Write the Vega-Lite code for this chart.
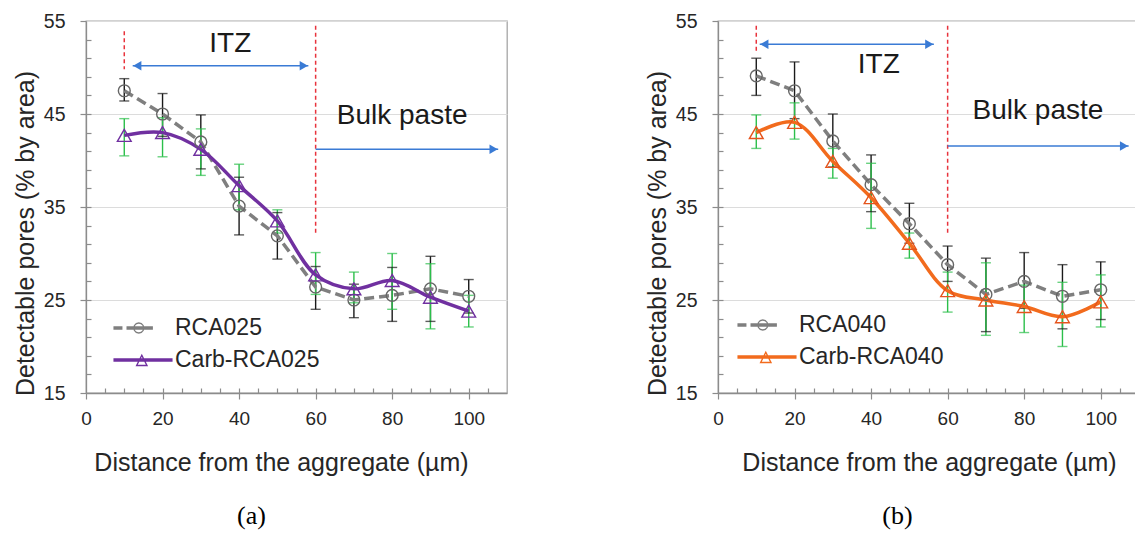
{
  "$schema": "https://vega.github.io/schema/vega-lite/v6.json",
  "padding": {"left": 12, "top": 10, "right": 0, "bottom": 0},
  "spacing": 136,
  "config": {
    "font": "Liberation Sans",
    "view": {"stroke": "#a6a6a6", "strokeWidth": 1.3},
    "axis": {
      "domainColor": "#8c8c8c", "domainWidth": 1.3, "tickColor": "#8c8c8c", "tickWidth": 1.2,
      "labelFont": "Liberation Sans", "labelColor": "#262626",
      "titleFont": "Liberation Sans", "titleColor": "#262626", "titleFontSize": 25, "titleFontWeight": "normal",
      "gridColor": "#dcdcdc", "labelOverlap": false, "labelFlush": false, "labelBound": false
    },
    "title": {"font": "Liberation Serif", "fontSize": 26, "fontWeight": "normal", "color": "#000000"}
  },
  "resolve": {"scale": {"color": "independent", "x": "independent", "y": "independent"}, "legend": {"color": "independent"}},
  "hconcat": [
    {
      "width": 421, "height": 372,
      "title": {"text": "(a)", "orient": "bottom", "anchor": "middle", "frame": "group", "dx": -45, "offset": 28},
      "data": {"values": [
        {"x": 10, "series": "RCA025", "y": 47.5, "lo": 46.4, "hi": 48.8},
        {"x": 20, "series": "RCA025", "y": 45.0, "lo": 42.6, "hi": 47.2},
        {"x": 30, "series": "RCA025", "y": 42.0, "lo": 39.1, "hi": 44.9},
        {"x": 40, "series": "RCA025", "y": 35.1, "lo": 32.0, "hi": 38.2},
        {"x": 50, "series": "RCA025", "y": 31.9, "lo": 29.4, "hi": 34.4},
        {"x": 60, "series": "RCA025", "y": 26.4, "lo": 24.0, "hi": 28.6},
        {"x": 70, "series": "RCA025", "y": 25.0, "lo": 23.1, "hi": 26.7},
        {"x": 80, "series": "RCA025", "y": 25.5, "lo": 22.7, "hi": 28.5},
        {"x": 90, "series": "RCA025", "y": 26.2, "lo": 22.7, "hi": 29.7},
        {"x": 100, "series": "RCA025", "y": 25.4, "lo": 23.6, "hi": 27.2},
        {"x": 10, "series": "Carb-RCA025", "y": 42.7, "lo": 40.5, "hi": 44.5},
        {"x": 20, "series": "Carb-RCA025", "y": 43.0, "lo": 40.4, "hi": 44.6},
        {"x": 30, "series": "Carb-RCA025", "y": 41.2, "lo": 38.4, "hi": 43.4},
        {"x": 40, "series": "Carb-RCA025", "y": 37.3, "lo": 34.7, "hi": 39.6},
        {"x": 50, "series": "Carb-RCA025", "y": 33.5, "lo": 32.2, "hi": 34.7},
        {"x": 60, "series": "Carb-RCA025", "y": 27.7, "lo": 25.6, "hi": 30.1},
        {"x": 70, "series": "Carb-RCA025", "y": 26.2, "lo": 24.7, "hi": 28.0},
        {"x": 80, "series": "Carb-RCA025", "y": 27.1, "lo": 24.0, "hi": 30.0},
        {"x": 90, "series": "Carb-RCA025", "y": 25.3, "lo": 21.9, "hi": 28.9},
        {"x": 100, "series": "Carb-RCA025", "y": 23.8, "lo": 22.1, "hi": 25.5}
      ]},
      "resolve": {"axis": {"x": "independent", "y": "independent"}},
      "layer": [
        {
          "layer": [
            {
              "mark": {"type": "rule", "strokeWidth": 1.4},
              "encoding": {
                "x": {"field": "x", "type": "quantitative", "scale": {"domain": [0, 110], "nice": false, "zero": false}, "title": "Distance from the aggregate (µm)",
                  "axis": {"values": [0, 20, 40, 60, 80, 100], "labelFontSize": 19, "tickSize": 6, "labelPadding": 10, "titlePadding": 22, "titleX": 195, "grid": false}},
                "y": {"field": "lo", "type": "quantitative", "scale": {"domain": [15, 55], "nice": false, "zero": false}, "title": "Detectable pores (% by area)",
                  "axis": {"values": [15, 25, 35, 45, 55], "labelFontSize": 19.5, "tickSize": 6, "labelPadding": 15, "grid": true, "titlePadding": 5, "titleY": 212}},
                "y2": {"field": "hi"},
                "stroke": {"condition": {"test": "indexof(datum.series, 'Carb') === 0", "value": "#2bbf4a"}, "value": "#1a1a1a"}
              }
            },
            {
              "mark": {"type": "tick", "orient": "horizontal", "size": 10, "thickness": 1.4},
              "encoding": {
                "x": {"field": "x", "type": "quantitative"},
                "y": {"field": "lo", "type": "quantitative"},
                "color": {"condition": {"test": "indexof(datum.series, 'Carb') === 0", "value": "#2bbf4a"}, "value": "#1a1a1a"}
              }
            },
            {
              "mark": {"type": "tick", "orient": "horizontal", "size": 10, "thickness": 1.4},
              "encoding": {
                "x": {"field": "x", "type": "quantitative"},
                "y": {"field": "hi", "type": "quantitative"},
                "color": {"condition": {"test": "indexof(datum.series, 'Carb') === 0", "value": "#2bbf4a"}, "value": "#1a1a1a"}
              }
            },
            {
              "transform": [{"filter": "datum.series === 'RCA025'"}],
              "mark": {"type": "line", "strokeWidth": 3.5, "strokeDash": [10, 5]},
              "encoding": {
                "x": {"field": "x", "type": "quantitative"},
                "y": {"field": "y", "type": "quantitative"},
                "color": {"field": "series", "type": "nominal", "scale": {"domain": ["RCA025", "Carb-RCA025"], "range": ["#7f7f7f", "#7030a0"]},
                  "legend": {"orient": "none", "legendX": 42, "legendY": 292, "title": null, "labelFontSize": 23, "labelColor": "#262626", "symbolSize": 900, "labelOffset": 17, "padding": 0, "rowPadding": 5,
                    "encode": {"symbols": {"update": {
                      "shape": {"signal": "indexof(datum.value, 'Carb') === 0 ? 'M-1.97,-0.117H1.97V0.117H-1.97Z M-0.08,-0.42L0.34,0.41L-0.5,0.41Z M-0.08,-0.212L-0.3495,0.317L0.1895,0.317Z' : 'M-1.97,-0.12H-1.37V0.12H-1.97Z M-1.1,-0.12H0.66V0.12H-1.1Z M0.1,0L0.0491,0.19L-0.09,0.3291L-0.28,0.38L-0.47,0.3291L-0.6091,0.19L-0.66,0L-0.6091,-0.19L-0.47,-0.3291L-0.28,-0.38L-0.09,-0.3291L0.0491,-0.19Z M0.01,0L-0.0289,-0.145L-0.135,-0.2511L-0.28,-0.29L-0.425,-0.2511L-0.5311,-0.145L-0.57,0L-0.5311,0.145L-0.425,0.2511L-0.28,0.29L-0.135,0.2511L-0.0289,0.145Z'"},
                      "fill": {"signal": "datum.value === 'Carb-RCA025' ? '#7030a0' : datum.value === 'Carb-RCA040' ? '#f26b1d' : '#7f7f7f'"},
                      "stroke": {"value": "transparent"}, "strokeWidth": {"value": 0}, "opacity": {"value": 1}, "fillOpacity": {"value": 1}
                    }}}}}
              }
            },
            {
              "transform": [{"filter": "datum.series === 'Carb-RCA025'"}],
              "mark": {"type": "line", "strokeWidth": 3.5, "interpolate": "catmull-rom"},
              "encoding": {
                "x": {"field": "x", "type": "quantitative"},
                "y": {"field": "y", "type": "quantitative"},
                "color": {"field": "series", "type": "nominal", "scale": {"domain": ["RCA025", "Carb-RCA025"], "range": ["#7f7f7f", "#7030a0"]}}
              }
            },
            {
              "mark": {"type": "point", "filled": false, "strokeWidth": 1.4, "opacity": 1},
              "encoding": {
                "x": {"field": "x", "type": "quantitative"},
                "y": {"field": "y", "type": "quantitative"},
                "shape": {"condition": {"test": "indexof(datum.series, 'Carb') === 0", "value": "triangle-up"}, "value": "circle"},
                "size": {"condition": {"test": "indexof(datum.series, 'Carb') === 0", "value": 190}, "value": 140},
                "stroke": {"condition": {"test": "indexof(datum.series, 'Carb') === 0", "value": "#7030a0"}, "value": "#666666"}
              }
            },
            {
              "data": {"values": [{"x": 10, "y1": 53.9, "y2": 49.8}, {"x": 60, "y1": 54.5, "y2": 31.9}]},
              "mark": {"type": "rule", "color": "#e8333c", "strokeWidth": 1.5, "strokeDash": [4, 3]},
              "encoding": {"x": {"field": "x", "type": "quantitative"}, "y": {"field": "y1", "type": "quantitative"}, "y2": {"field": "y2"}}
            },
            {
              "data": {"values": [{"x1": 12.2, "x2": 58.1, "y": 50.2}, {"x1": 60, "x2": 107.7, "y": 41.2}]},
              "mark": {"type": "rule", "color": "#3a7bd5", "strokeWidth": 1.5},
              "encoding": {"x": {"field": "x1", "type": "quantitative"}, "x2": {"field": "x2"}, "y": {"field": "y", "type": "quantitative"}}
            },
            {
              "data": {"values": [{"x": 13.4, "y": 50.2, "dir": "left"}, {"x": 56.9, "y": 50.2, "dir": "right"}, {"x": 106.5, "y": 41.2, "dir": "right"}]},
              "mark": {"type": "point", "filled": true, "size": 90, "color": "#3a7bd5", "opacity": 1},
              "encoding": {"x": {"field": "x", "type": "quantitative"}, "y": {"field": "y", "type": "quantitative"},
                "shape": {"condition": {"test": "datum.dir === 'left'", "value": "triangle-left"}, "value": "triangle-right"}}
            },
            {
              "data": {"values": [{"x": 37.7, "y": 52.5, "t": "ITZ"}, {"x": 82.6, "y": 44.8, "t": "Bulk paste"}]},
              "mark": {"type": "text", "fontSize": 28, "color": "#1a1a1a", "align": "center", "baseline": "middle"},
              "encoding": {"x": {"field": "x", "type": "quantitative"}, "y": {"field": "y", "type": "quantitative"}, "text": {"field": "t"}}
            }
          ]
        },
        {
          "mark": {"type": "point", "opacity": 0},
          "encoding": {
            "x": {"field": "x", "type": "quantitative", "scale": {"domain": [0, 110], "nice": false, "zero": false},
              "axis": {"orient": "bottom", "values": [5,10,15,20,25,30,35,40,45,50,55,60,65,70,75,80,85,90,95,100,105], "labels": false, "tickSize": -5, "domain": false, "grid": false, "title": null}},
            "y": {"field": "y", "type": "quantitative", "scale": {"domain": [15, 55], "nice": false, "zero": false},
              "axis": {"orient": "left", "values": [17,19,21,23,25,27,29,31,33,35,37,39,41,43,45,47,49,51,53], "labels": false, "tickSize": -5, "domain": false, "grid": false, "title": null}}
          }
        }
      ]
    },
    {
      "width": 421, "height": 372,
      "title": {"text": "(b)", "orient": "bottom", "anchor": "middle", "frame": "group", "dx": -31, "offset": 28},
      "data": {"values": [
        {"x": 10, "series": "RCA040", "y": 49.1, "lo": 47.0, "hi": 51.0},
        {"x": 20, "series": "RCA040", "y": 47.5, "lo": 44.5, "hi": 50.6},
        {"x": 30, "series": "RCA040", "y": 42.1, "lo": 39.3, "hi": 45.0},
        {"x": 40, "series": "RCA040", "y": 37.4, "lo": 34.5, "hi": 40.6},
        {"x": 50, "series": "RCA040", "y": 33.2, "lo": 31.1, "hi": 35.4},
        {"x": 60, "series": "RCA040", "y": 28.8, "lo": 27.0, "hi": 30.8},
        {"x": 70, "series": "RCA040", "y": 25.6, "lo": 21.6, "hi": 29.5},
        {"x": 80, "series": "RCA040", "y": 27.0, "lo": 24.1, "hi": 30.1},
        {"x": 90, "series": "RCA040", "y": 25.4, "lo": 21.9, "hi": 28.8},
        {"x": 100, "series": "RCA040", "y": 26.1, "lo": 22.9, "hi": 29.1},
        {"x": 10, "series": "Carb-RCA040", "y": 43.0, "lo": 41.3, "hi": 44.9},
        {"x": 20, "series": "Carb-RCA040", "y": 44.1, "lo": 42.3, "hi": 46.2},
        {"x": 30, "series": "Carb-RCA040", "y": 39.9, "lo": 38.1, "hi": 41.3},
        {"x": 40, "series": "Carb-RCA040", "y": 36.0, "lo": 32.7, "hi": 39.7},
        {"x": 50, "series": "Carb-RCA040", "y": 31.1, "lo": 29.5, "hi": 32.2},
        {"x": 60, "series": "Carb-RCA040", "y": 26.0, "lo": 23.7, "hi": 28.0},
        {"x": 70, "series": "Carb-RCA040", "y": 25.0, "lo": 21.2, "hi": 29.0},
        {"x": 80, "series": "Carb-RCA040", "y": 24.3, "lo": 21.5, "hi": 26.6},
        {"x": 90, "series": "Carb-RCA040", "y": 23.2, "lo": 20.0, "hi": 26.9},
        {"x": 100, "series": "Carb-RCA040", "y": 24.8, "lo": 22.1, "hi": 27.7}
      ]},
      "resolve": {"axis": {"x": "independent", "y": "independent"}},
      "layer": [
        {
          "layer": [
            {
              "mark": {"type": "rule", "strokeWidth": 1.4},
              "encoding": {
                "x": {"field": "x", "type": "quantitative", "scale": {"domain": [0, 110], "nice": false, "zero": false}, "title": "Distance from the aggregate (µm)",
                  "axis": {"values": [0, 20, 40, 60, 80, 100], "labelFontSize": 19, "tickSize": 6, "labelPadding": 10, "titlePadding": 22, "titleX": 211, "grid": false}},
                "y": {"field": "lo", "type": "quantitative", "scale": {"domain": [15, 55], "nice": false, "zero": false}, "title": "Detectable pores (% by area)",
                  "axis": {"values": [15, 25, 35, 45, 55], "labelFontSize": 19.5, "tickSize": 6, "labelPadding": 15, "grid": true, "titlePadding": 5, "titleY": 212}},
                "y2": {"field": "hi"},
                "stroke": {"condition": {"test": "indexof(datum.series, 'Carb') === 0", "value": "#2bbf4a"}, "value": "#1a1a1a"}
              }
            },
            {
              "mark": {"type": "tick", "orient": "horizontal", "size": 10, "thickness": 1.4},
              "encoding": {
                "x": {"field": "x", "type": "quantitative"},
                "y": {"field": "lo", "type": "quantitative"},
                "color": {"condition": {"test": "indexof(datum.series, 'Carb') === 0", "value": "#2bbf4a"}, "value": "#1a1a1a"}
              }
            },
            {
              "mark": {"type": "tick", "orient": "horizontal", "size": 10, "thickness": 1.4},
              "encoding": {
                "x": {"field": "x", "type": "quantitative"},
                "y": {"field": "hi", "type": "quantitative"},
                "color": {"condition": {"test": "indexof(datum.series, 'Carb') === 0", "value": "#2bbf4a"}, "value": "#1a1a1a"}
              }
            },
            {
              "transform": [{"filter": "datum.series === 'RCA040'"}],
              "mark": {"type": "line", "strokeWidth": 3.5, "strokeDash": [10, 5]},
              "encoding": {
                "x": {"field": "x", "type": "quantitative"},
                "y": {"field": "y", "type": "quantitative"},
                "color": {"field": "series", "type": "nominal", "scale": {"domain": ["RCA040", "Carb-RCA040"], "range": ["#7f7f7f", "#f26b1d"]},
                  "legend": {"orient": "none", "legendX": 34, "legendY": 289, "title": null, "labelFontSize": 23, "labelColor": "#262626", "symbolSize": 900, "labelOffset": 17, "padding": 0, "rowPadding": 5,
                    "encode": {"symbols": {"update": {
                      "shape": {"signal": "indexof(datum.value, 'Carb') === 0 ? 'M-1.97,-0.117H1.97V0.117H-1.97Z M-0.08,-0.42L0.34,0.41L-0.5,0.41Z M-0.08,-0.212L-0.3495,0.317L0.1895,0.317Z' : 'M-1.97,-0.12H-1.37V0.12H-1.97Z M-1.1,-0.12H0.66V0.12H-1.1Z M0.1,0L0.0491,0.19L-0.09,0.3291L-0.28,0.38L-0.47,0.3291L-0.6091,0.19L-0.66,0L-0.6091,-0.19L-0.47,-0.3291L-0.28,-0.38L-0.09,-0.3291L0.0491,-0.19Z M0.01,0L-0.0289,-0.145L-0.135,-0.2511L-0.28,-0.29L-0.425,-0.2511L-0.5311,-0.145L-0.57,0L-0.5311,0.145L-0.425,0.2511L-0.28,0.29L-0.135,0.2511L-0.0289,0.145Z'"},
                      "fill": {"signal": "datum.value === 'Carb-RCA025' ? '#7030a0' : datum.value === 'Carb-RCA040' ? '#f26b1d' : '#7f7f7f'"},
                      "stroke": {"value": "transparent"}, "strokeWidth": {"value": 0}, "opacity": {"value": 1}, "fillOpacity": {"value": 1}
                    }}}}}
              }
            },
            {
              "transform": [{"filter": "datum.series === 'Carb-RCA040'"}],
              "mark": {"type": "line", "strokeWidth": 3.5, "interpolate": "catmull-rom"},
              "encoding": {
                "x": {"field": "x", "type": "quantitative"},
                "y": {"field": "y", "type": "quantitative"},
                "color": {"field": "series", "type": "nominal", "scale": {"domain": ["RCA040", "Carb-RCA040"], "range": ["#7f7f7f", "#f26b1d"]}}
              }
            },
            {
              "mark": {"type": "point", "filled": false, "strokeWidth": 1.4, "opacity": 1},
              "encoding": {
                "x": {"field": "x", "type": "quantitative"},
                "y": {"field": "y", "type": "quantitative"},
                "shape": {"condition": {"test": "indexof(datum.series, 'Carb') === 0", "value": "triangle-up"}, "value": "circle"},
                "size": {"condition": {"test": "indexof(datum.series, 'Carb') === 0", "value": 190}, "value": 140},
                "stroke": {"condition": {"test": "indexof(datum.series, 'Carb') === 0", "value": "#e5541c"}, "value": "#666666"}
              }
            },
            {
              "data": {"values": [{"x": 10, "y1": 54.5, "y2": 51.6}, {"x": 60, "y1": 54.5, "y2": 32.2}]},
              "mark": {"type": "rule", "color": "#e8333c", "strokeWidth": 1.5, "strokeDash": [4, 3]},
              "encoding": {"x": {"field": "x", "type": "quantitative"}, "y": {"field": "y1", "type": "quantitative"}, "y2": {"field": "y2"}}
            },
            {
              "data": {"values": [{"x1": 10.9, "x2": 56.4, "y": 52.5}, {"x1": 60, "x2": 107.3, "y": 41.55}]},
              "mark": {"type": "rule", "color": "#3a7bd5", "strokeWidth": 1.5},
              "encoding": {"x": {"field": "x1", "type": "quantitative"}, "x2": {"field": "x2"}, "y": {"field": "y", "type": "quantitative"}}
            },
            {
              "data": {"values": [{"x": 12.1, "y": 52.5, "dir": "left"}, {"x": 55.2, "y": 52.5, "dir": "right"}, {"x": 106.1, "y": 41.55, "dir": "right"}]},
              "mark": {"type": "point", "filled": true, "size": 90, "color": "#3a7bd5", "opacity": 1},
              "encoding": {"x": {"field": "x", "type": "quantitative"}, "y": {"field": "y", "type": "quantitative"},
                "shape": {"condition": {"test": "datum.dir === 'left'", "value": "triangle-left"}, "value": "triangle-right"}}
            },
            {
              "data": {"values": [{"x": 42, "y": 50.3, "t": "ITZ"}, {"x": 83.6, "y": 45.3, "t": "Bulk paste"}]},
              "mark": {"type": "text", "fontSize": 28, "color": "#1a1a1a", "align": "center", "baseline": "middle"},
              "encoding": {"x": {"field": "x", "type": "quantitative"}, "y": {"field": "y", "type": "quantitative"}, "text": {"field": "t"}}
            }
          ]
        },
        {
          "mark": {"type": "point", "opacity": 0},
          "encoding": {
            "x": {"field": "x", "type": "quantitative", "scale": {"domain": [0, 110], "nice": false, "zero": false},
              "axis": {"orient": "bottom", "values": [5,10,15,20,25,30,35,40,45,50,55,60,65,70,75,80,85,90,95,100,105], "labels": false, "tickSize": -5, "domain": false, "grid": false, "title": null}},
            "y": {"field": "y", "type": "quantitative", "scale": {"domain": [15, 55], "nice": false, "zero": false},
              "axis": {"orient": "left", "values": [17,19,21,23,25,27,29,31,33,35,37,39,41,43,45,47,49,51,53], "labels": false, "tickSize": -5, "domain": false, "grid": false, "title": null}}
          }
        }
      ]
    }
  ]
}
